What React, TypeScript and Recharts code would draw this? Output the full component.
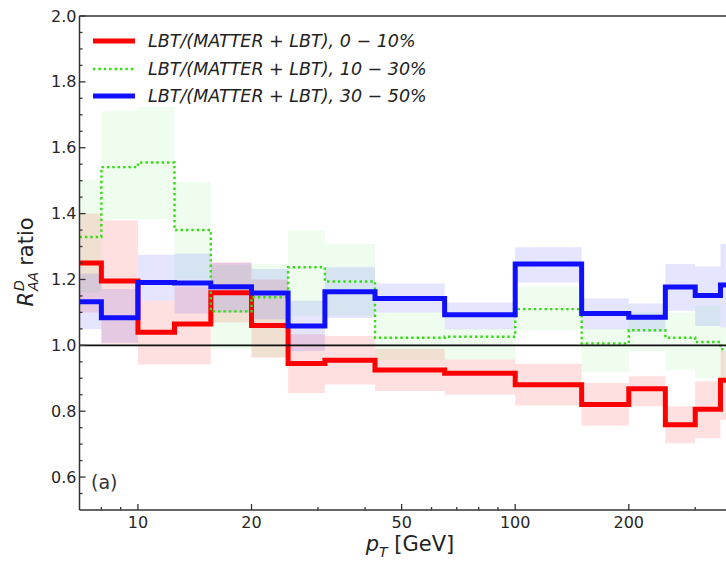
import { Area, ComposedChart, Line, ReferenceLine, XAxis, YAxis } from "recharts";

// bin edges in pT (GeV); the last edge only closes the last step
const binEdges = [7, 8, 10, 12.5, 15.6, 20, 25, 31.3, 42.5, 65, 100, 150, 200, 250, 300, 350, 400];

// 0-10%
const ratio0to10 = [1.25, 1.195, 1.04, 1.065, 1.16, 1.06, 0.945, 0.955, 0.925, 0.915, 0.88, 0.82, 0.868, 0.759, 0.806, 0.894];
const low0to10 = [1.1, 1.005, 0.942, 0.942, 1.069, 0.962, 0.855, 0.881, 0.861, 0.85, 0.817, 0.756, 0.815, 0.703, 0.718, 0.774];
const high0to10 = [1.4, 1.38, 1.135, 1.178, 1.252, 1.2, 1.034, 1.028, 0.99, 0.957, 0.944, 0.886, 0.906, 0.815, 0.891, 0.983];

// 10-30%
const ratio10to30 = [1.329, 1.541, 1.555, 1.35, 1.103, 1.146, 1.237, 1.194, 1.023, 1.026, 1.11, 1.006, 1.046, 1.023, 1.01, 0.988];
const low10to30 = [1.16, 1.383, 1.383, 1.2, 0.99, 0.965, 1.09, 1.09, 0.955, 0.957, 1.044, 0.919, 0.983, 0.926, 0.9, 0.896];
const high10to30 = [1.502, 1.711, 1.723, 1.495, 1.245, 1.247, 1.349, 1.308, 1.1, 1.05, 1.179, 1.05, 1.1, 1.1, 1.12, 1.054];

// 30-50%
const ratio30to50 = [1.132, 1.084, 1.191, 1.189, 1.178, 1.159, 1.059, 1.163, 1.142, 1.093, 1.247, 1.097, 1.085, 1.177, 1.151, 1.183];
const low30to50 = [1.049, 1.008, 1.135, 1.097, 1.1, 1.079, 0.983, 1.084, 1.1, 1.049, 1.191, 1.049, 1.041, 1.105, 1.059, 1.054];
const high30to50 = [1.217, 1.171, 1.275, 1.278, 1.25, 1.232, 1.135, 1.237, 1.188, 1.13, 1.298, 1.142, 1.127, 1.247, 1.239, 1.308];

const xTicks = [8, 9, 10, 20, 30, 40, 50, 60, 70, 80, 90, 100, 200, 300];
const xLabels = [10, 20, 50, 100, 200];
const yTicks = [
  0.55, 0.6, 0.65, 0.7, 0.75, 0.8, 0.85, 0.9, 0.95, 1.0, 1.05, 1.1, 1.15, 1.2, 1.25, 1.3, 1.35, 1.4, 1.45, 1.5,
  1.55, 1.6, 1.65, 1.7, 1.75, 1.8, 1.85, 1.9, 1.95, 2.0,
];
const yLabels = [0.6, 0.8, 1.0, 1.2, 1.4, 1.6, 1.8, 2.0];

const legendItems = [
  { label: "LBT/(MATTER + LBT), 0 \u2212 10%", color: "#ff0000", dotted: false },
  { label: "LBT/(MATTER + LBT), 10 \u2212 30%", color: "#33dd11", dotted: true },
  { label: "LBT/(MATTER + LBT), 30 \u2212 50%", color: "#1010ff", dotted: false },
];

const font = "'DejaVu Sans', sans-serif";
const ink = "#333";
const dots = "2.4 3";

const rows = binEdges.map((pt, i) => {
  const k = Math.min(i, ratio0to10.length - 1);
  return {
    pt,
    r0: ratio0to10[k],
    band0: [low0to10[k], high0to10[k]],
    r1: ratio10to30[k],
    band1: [low10to30[k], high10to30[k]],
    r2: ratio30to50[k],
    band2: [low30to50[k], high30to50[k]],
  };
});

function XTick({ x, y, payload }: { x?: number; y?: number; payload?: { value: number } }) {
  if (x === undefined || y === undefined || !payload) return null;
  const major = xLabels.includes(payload.value);
  return (
    <g>
      <line x1={x} x2={x} y1={y} y2={y - (major ? 6 : 3)} stroke={ink} strokeWidth={1.3} />
      {major ? (
        <text x={x} y={y + 18} textAnchor="middle" fontSize={16} fill="#262626" fontFamily={font}>
          {payload.value}
        </text>
      ) : null}
    </g>
  );
}

function YTick({ x, y, payload }: { x?: number; y?: number; payload?: { value: number } }) {
  if (x === undefined || y === undefined || !payload) return null;
  const major = yLabels.some((v) => Math.abs(v - payload.value) < 1e-6);
  return (
    <g>
      <line x1={x} x2={x + (major ? 6 : 3)} y1={y} y2={y} stroke={ink} strokeWidth={1.3} />
      {major ? (
        <text x={x - 3} y={y + 5.5} textAnchor="end" fontSize={16} fill="#262626" fontFamily={font}>
          {payload.value.toFixed(1)}
        </text>
      ) : null}
    </g>
  );
}

export default function App() {
  return (
    <div style={{ position: "absolute", left: 0, top: 0, width: 726, height: 561, overflow: "hidden", background: "#fff", fontFamily: font }}>
      <ComposedChart width={726} height={561} data={rows} margin={{ top: 16, right: 0, bottom: 0, left: 0 }}>
        <XAxis
          dataKey="pt"
          type="number"
          scale="log"
          domain={[7, 362]}
          allowDataOverflow
          ticks={xTicks}
          interval={0}
          tick={<XTick />}
          tickLine={false}
          tickSize={0}
          tickMargin={0}
          height={51}
          axisLine={{ stroke: ink, strokeWidth: 1.5 }}
        />
        <YAxis
          type="number"
          domain={[0.5, 2.0]}
          allowDataOverflow
          ticks={yTicks}
          interval={0}
          tick={<YTick />}
          tickLine={false}
          tickSize={0}
          tickMargin={0}
          width={79.5}
          axisLine={{ stroke: ink, strokeWidth: 1.5 }}
        />
        <ReferenceLine y={2.0} stroke={ink} strokeWidth={1.5} />
        <Area dataKey="band0" type="stepAfter" stroke="none" fill="#ff0000" fillOpacity={0.12} isAnimationActive={false} />
        <Line dataKey="r0" type="stepAfter" stroke="#ff0000" strokeWidth={5} dot={false} activeDot={false} isAnimationActive={false} />
        <Area dataKey="band1" type="stepAfter" stroke="none" fill="#22dd22" fillOpacity={0.07} isAnimationActive={false} />
        <Line dataKey="r1" type="stepAfter" stroke="#33dd11" strokeWidth={2.4} strokeDasharray={dots} dot={false} activeDot={false} isAnimationActive={false} />
        <Area dataKey="band2" type="stepAfter" stroke="none" fill="#1010ff" fillOpacity={0.11} isAnimationActive={false} />
        <Line dataKey="r2" type="stepAfter" stroke="#1010ff" strokeWidth={5} dot={false} activeDot={false} isAnimationActive={false} />
        <ReferenceLine y={1.0} stroke="#111" strokeWidth={1.6} />
      </ComposedChart>

      <div style={{ position: "absolute", left: 90, top: 27 }}>
        {legendItems.map((item) => (
          <div key={item.label} style={{ display: "flex", alignItems: "center", height: 27.7 }}>
            <svg width={48} height={10} style={{ marginRight: 10 }}>
              <line
                x1={3}
                x2={45}
                y1={5}
                y2={5}
                stroke={item.color}
                strokeWidth={item.dotted ? 2.4 : 5}
                strokeDasharray={item.dotted ? dots : undefined}
              />
            </svg>
            <span style={{ fontStyle: "italic", fontSize: 17.5, color: "#222", whiteSpace: "nowrap" }}>{item.label}</span>
          </div>
        ))}
      </div>

      <div style={{ position: "absolute", left: 91, top: 471, fontSize: 19, color: ink }}>(a)</div>

      <div
        style={{
          position: "absolute",
          left: 26,
          top: 262,
          transform: "translate(-50%, -50%) rotate(-90deg)",
          fontSize: 21,
          color: "#222",
          whiteSpace: "nowrap",
          display: "flex",
          alignItems: "center",
        }}
      >
        <i>R</i>
        <span style={{ display: "inline-flex", flexDirection: "column", fontSize: 14, lineHeight: "14px", fontStyle: "italic", marginLeft: 1 }}>
          <span>D</span>
          <span>AA</span>
        </span>
        <span style={{ marginLeft: 6 }}>ratio</span>
      </div>

      <div style={{ position: "absolute", left: 410, top: 546, transform: "translate(-50%, -50%)", fontSize: 21, color: "#222", whiteSpace: "nowrap" }}>
        <i>p</i>
        <sub style={{ fontSize: 14, fontStyle: "italic" }}>T</sub> [GeV]
      </div>
    </div>
  );
}
